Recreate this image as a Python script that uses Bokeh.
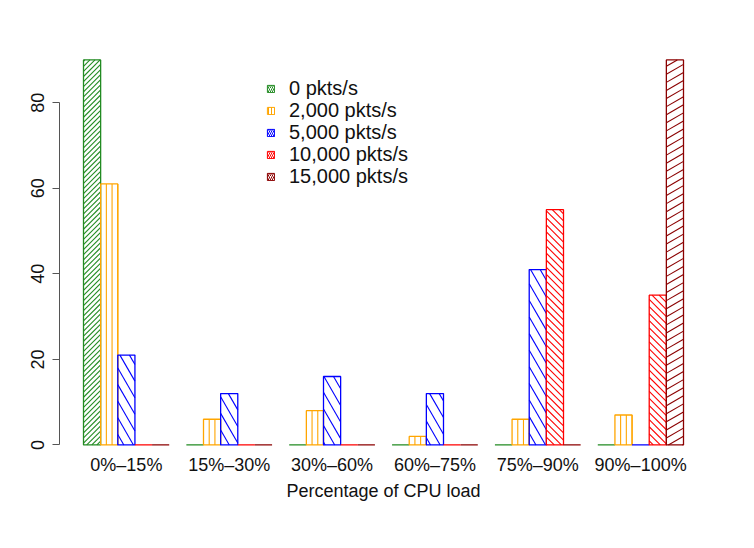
import math
from bokeh.plotting import figure
from bokeh.models import Range1d, FixedTicker, Legend, LegendItem, ColumnDataSource, BoxAnnotation
from bokeh.embed import file_html
from bokeh.resources import INLINE

# ---- data ----
categories = ["0%–15%", "15%–30%", "30%–60%", "60%–75%", "75%–90%", "90%–100%"]
series_names = ["0 pkts/s", "2,000 pkts/s", "5,000 pkts/s", "10,000 pkts/s", "15,000 pkts/s"]
rate_0 = [90, 0, 0, 0, 0, 0]
rate_2000 = [61, 6, 8, 2, 6, 7]
rate_5000 = [21, 12, 16, 12, 41, 0]
rate_10000 = [0, 0, 0, 0, 55, 35]
rate_15000 = [0, 0, 0, 0, 0, 90]
y_ticks = [0, 20, 40, 60, 80]
x_title = "Percentage of CPU load"

series_values = [rate_0, rate_2000, rate_5000, rate_10000, rate_15000]

# ---- style ----
colors = ["#228B22", "#FFA500", "#0000FF", "#FF0000", "#8B0000"]
hatch_angles = [45, 90, 120, 135, 30]          # degrees, counter-clockwise
hatch_spacing = [3.6, 5.714, 8.3, 5.0, 7.0]     # perpendicular spacing, px
legend_patterns = ["right_diagonal_line", "vertical_line", "left_diagonal_line",
                   "left_diagonal_line", "right_diagonal_line"]
legend_scales = [4, 3, 4, 4, 4]
FONT = "Liberation Sans"
LEGEND_FS = 20

X_START, X_END = -0.4, 37.4
Y_START, Y_END = -2.0, 93.6
FW, FH = 648, 409
BL, BR, BT, BB = 59, 47, 44, 95
kx = FW / (X_END - X_START)
ky = FH / (Y_END - Y_START)

nser = len(series_values)
group_w = nser + 1


def hatch_segments(x0, x1, y0, y1, angle_deg, spacing):
    X0, X1 = x0 * kx, x1 * kx
    Y0, Y1 = y0 * ky, y1 * ky
    if Y1 - Y0 <= 0:
        return []
    th = math.radians(angle_deg)
    dx, dy = math.cos(th), math.sin(th)
    nx, ny = -dy, dx
    cs = [nx * X + ny * Y for X in (X0, X1) for Y in (Y0, Y1)]
    kmin = math.ceil(min(cs) / spacing)
    kmax = math.floor(max(cs) / spacing)
    out = []
    for k in range(kmin, kmax + 1):
        c = k * spacing
        px, py = c * nx, c * ny
        tlo, thi = -1e18, 1e18
        for p0, d, lo, hi in ((px, dx, X0, X1), (py, dy, Y0, Y1)):
            if abs(d) < 1e-12:
                if p0 < lo - 1e-9 or p0 > hi + 1e-9:
                    tlo, thi = 1.0, 0.0
            else:
                a, b = (lo - p0) / d, (hi - p0) / d
                if a > b:
                    a, b = b, a
                tlo = max(tlo, a)
                thi = min(thi, b)
        if thi - tlo > 1e-6:
            out.append(((px + tlo * dx) / kx, (py + tlo * dy) / ky,
                        (px + thi * dx) / kx, (py + thi * dy) / ky))
    return out


p = figure(frame_width=FW, frame_height=FH,
           x_range=Range1d(X_START, X_END), y_range=Range1d(Y_START, Y_END),
           min_border_left=BL, min_border_right=BR, min_border_top=BT, min_border_bottom=BB,
           output_backend="svg", toolbar_location=None, tools="")
p.outline_line_color = None
p.xgrid.visible = False
p.ygrid.visible = False
p.background_fill_color = "white"
p.border_fill_color = "white"

# slide frame (purple bands at top and left edge of the page)
p.add_layout(BoxAnnotation(left=-BL, right=FW + BR, top=FH + BT, bottom=FH + BT - 7,
                           left_units="screen", right_units="screen",
                           top_units="screen", bottom_units="screen",
                           fill_color="#5d5aaa", fill_alpha=1, line_color=None))
p.add_layout(BoxAnnotation(left=-BL, right=-BL + 4, top=FH + BT, bottom=-BB,
                           left_units="screen", right_units="screen",
                           top_units="screen", bottom_units="screen",
                           fill_color="#5f5bad", fill_alpha=1, line_color=None))

legend_items = []
for j, (vals, col) in enumerate(zip(series_values, colors)):
    xs = [1.5 + group_w * g + j for g in range(len(categories))]
    # hatch lines
    sx0, sy0, sx1, sy1 = [], [], [], []
    for xc, v in zip(xs, vals):
        for a, b, c, d in hatch_segments(xc - 0.5, xc + 0.5, 0, v, hatch_angles[j], hatch_spacing[j]):
            sx0.append(a); sy0.append(b); sx1.append(c); sy1.append(d)
    p.segment(x0=sx0, y0=sy0, x1=sx1, y1=sy1, line_color=col, line_width=1.1)
    src = ColumnDataSource(dict(x=xs, top=vals))
    p.vbar(x="x", top="top", bottom=0, width=1, source=src,
           fill_color=None, line_color=col, line_width=1.3)
    # legend swatch renderer (hidden; used only for the legend glyph)
    swatch = p.vbar(x="x", top="top", bottom=0, width=1, source=src,
                    fill_color=None, line_color=col, line_width=1,
                    hatch_pattern=legend_patterns[j], hatch_color=col,
                    hatch_scale=legend_scales[j], hatch_weight=1)
    swatch.visible = False
    legend_items.append(LegendItem(label=series_names[j], renderers=[swatch]))

# one single-row legend per series, stacked with the reference's row pitch
row_pitch = 22
first_row_center = 88 - BT            # px below frame top
half_h = 0.59 * LEGEND_FS
for i, item in enumerate(legend_items):
    center_from_top = first_row_center + row_pitch * i
    vy = FH - center_from_top - half_h
    lg = Legend(items=[item], location=(207, vy), orientation="vertical",
                glyph_width=9, glyph_height=9, label_standoff=14,
                label_height=18, spacing=0, padding=0, margin=0,
                border_line_color=None, background_fill_alpha=0,
                inactive_fill_alpha=0,
                label_text_font=FONT, label_text_font_size=f"{LEGEND_FS}px",
                label_text_color="#111111")
    p.add_layout(lg, "center")

# y axis
yax = p.yaxis[0]
yax.ticker = FixedTicker(ticks=y_ticks)
yax.bounds = (0, 80)
yax.major_tick_out = 7
yax.major_tick_in = 0
yax.minor_tick_line_color = None
yax.axis_line_color = "#555555"
yax.major_tick_line_color = "#555555"
yax.major_label_orientation = "vertical"
yax.major_label_text_font = FONT
yax.major_label_text_font_size = "18px"
yax.major_label_text_color = "#111111"
yax.major_label_standoff = 8

# x axis
xax = p.xaxis[0]
centers = [1 + group_w * g + nser / 2 for g in range(len(categories))]
xax.ticker = FixedTicker(ticks=centers)
xax.major_label_overrides = {c: lab for c, lab in zip(centers, categories)}
xax.axis_line_color = None
xax.major_tick_line_color = None
xax.minor_tick_line_color = None
xax.major_tick_out = 0
xax.major_tick_in = 0
xax.major_label_text_font = FONT
xax.major_label_text_font_size = "18px"
xax.major_label_text_color = "#111111"
xax.major_label_standoff = 1
xax.axis_label = x_title
xax.axis_label_text_font = FONT
xax.axis_label_text_font_size = "18px"
xax.axis_label_text_font_style = "normal"
xax.axis_label_text_color = "#111111"
xax.axis_label_standoff = 3

open("out.html", "w").write(file_html(p, INLINE))
